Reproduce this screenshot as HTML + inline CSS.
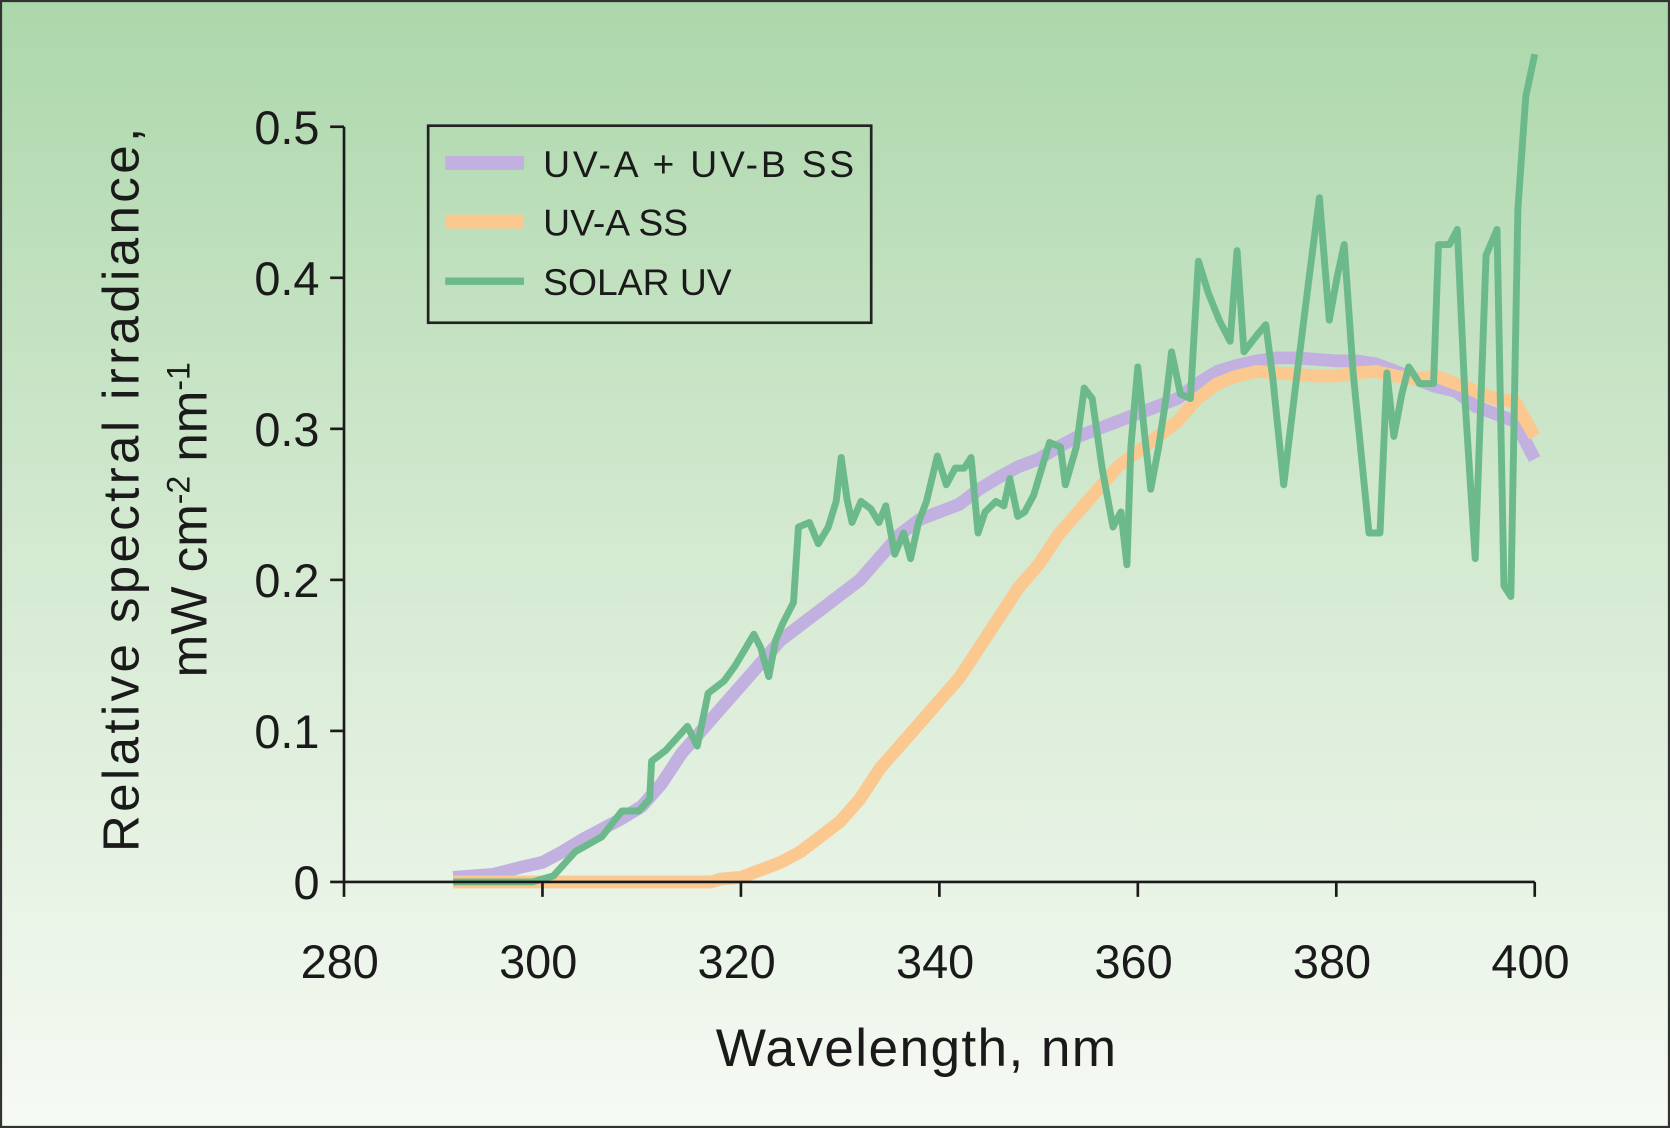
<!DOCTYPE html>
<html><head><meta charset="utf-8"><style>
html,body{margin:0;padding:0;}
body{width:1670px;height:1128px;overflow:hidden;}
svg{display:block;font-family:"Liberation Sans",sans-serif;}
</style></head><body>
<svg id="chart" width="1670" height="1128" viewBox="0 0 1568 1059" preserveAspectRatio="none" xmlns="http://www.w3.org/2000/svg">
<defs><linearGradient id="bg" x1="0" y1="0" x2="0" y2="1">
<stop offset="0" stop-color="#acd7ab"/><stop offset="0.5" stop-color="#d5ead2"/><stop offset="1" stop-color="#f6faf4"/></linearGradient></defs>
<rect x="1" y="1" width="1566" height="1057" fill="url(#bg)" stroke="#333" stroke-width="2"/>
<g id="series"></g>
<g id="axes"></g>
<g>
<rect x="402" y="118" width="416" height="185" fill="none" stroke="#222" stroke-width="2.5"/>
<line x1="418" y1="153" x2="492" y2="153" stroke="#c2b0e0" stroke-width="13"/>
<text x="510" y="166" font-size="35" fill="#1a1a1a" textLength="292">UV-A + UV-B SS</text>
<line x1="418" y1="208" x2="492" y2="208" stroke="#fbc890" stroke-width="13"/>
<text x="510" y="221" font-size="35" fill="#1a1a1a">UV-A SS</text>
<line x1="418" y1="264" x2="492" y2="264" stroke="#6cba8c" stroke-width="7"/>
<text x="510" y="277" font-size="35" fill="#1a1a1a">SOLAR UV</text>
</g>
<text transform="translate(130,460) rotate(-90)" text-anchor="middle" font-size="48" fill="#1a1a1a" textLength="680">Relative spectral irradiance,</text>
<text transform="translate(194,488) rotate(-90)" text-anchor="middle" font-size="48" fill="#1a1a1a">mW cm<tspan font-size="30" dy="-16">-2</tspan><tspan dy="16"> nm</tspan><tspan font-size="30" dy="-16">-1</tspan></text>
<text x="860" y="1001" text-anchor="middle" font-size="50" fill="#1a1a1a" textLength="376">Wavelength, nm</text>
</svg>
<script>
const xTicks = [280,300,320,340,360,380,400];
const yTicks = [0,0.1,0.2,0.3,0.4,0.5];
const yTickLabels = ["0","0.1","0.2","0.3","0.4","0.5"];
const uvabNm = [291,295,298,300,302,304,306,308,310,312,314,316,318,320,322,324,326,328,330,332,334,336,338,340,342,344,346,348,350,352,354,356,358,360,362,364,366,368,370,372,374,376,378,380,382,384,386,388,390,392,394,396,398,400];
const uvabVal = [0.003,0.005,0.01,0.013,0.02,0.028,0.035,0.042,0.05,0.065,0.085,0.1,0.115,0.13,0.145,0.16,0.17,0.18,0.19,0.2,0.215,0.23,0.24,0.245,0.25,0.26,0.268,0.275,0.28,0.288,0.295,0.3,0.305,0.31,0.315,0.32,0.33,0.338,0.342,0.345,0.347,0.347,0.346,0.345,0.345,0.343,0.338,0.333,0.328,0.325,0.315,0.31,0.305,0.28];
const uvaNm = [291,300,310,317,318,320,322,324,326,328,330,332,334,336,338,340,342,344,346,348,350,352,354,356,358,360,362,364,366,368,370,372,374,376,378,380,382,384,386,388,390,392,394,396,398,400];
const uvaVal = [0,0,0,0,0.002,0.003,0.008,0.013,0.02,0.03,0.04,0.055,0.075,0.09,0.105,0.12,0.135,0.155,0.175,0.195,0.21,0.23,0.245,0.26,0.275,0.285,0.295,0.305,0.32,0.33,0.335,0.338,0.337,0.336,0.335,0.335,0.337,0.338,0.335,0.333,0.335,0.33,0.325,0.32,0.318,0.295];
const solarNm = [291,299,301.1,303.3,306,308,309.7,310.8,311,312.4,314.6,315.6,316.7,318.3,319.4,320.5,321.3,322,322.8,323.5,324.2,325.3,325.8,326.9,327.8,328.8,329.6,330.1,330.7,331.2,332.1,333.1,333.9,334.6,335.5,336.4,337.1,337.9,338.7,339.8,340.7,341.6,342.5,343.2,343.9,344.6,345.7,346.5,347.1,347.9,348.6,349.5,351.1,352.2,352.7,353.8,354.6,355.4,356.4,357.5,358.3,358.9,359.3,360,360.7,361.3,362.1,362.9,363.4,364.3,365.3,366.1,367.1,368.2,369.3,370,370.7,372,372.9,373.6,374.7,375.8,377.2,378.3,379.3,380.1,380.8,381.7,383.3,384.4,385.1,385.8,386.6,387.3,388.4,389.8,390.3,391.4,392.2,393,394,395.1,396.2,396.9,397.6,398.3,399.1,400];
const solarVal = [0,0,0.004,0.02,0.03,0.047,0.047,0.055,0.08,0.087,0.103,0.09,0.125,0.133,0.143,0.155,0.164,0.155,0.136,0.16,0.171,0.185,0.235,0.238,0.224,0.235,0.252,0.281,0.253,0.238,0.252,0.247,0.238,0.249,0.217,0.231,0.214,0.238,0.252,0.282,0.263,0.274,0.274,0.281,0.231,0.245,0.252,0.249,0.267,0.242,0.245,0.256,0.291,0.288,0.263,0.288,0.327,0.32,0.274,0.235,0.245,0.21,0.288,0.341,0.295,0.26,0.288,0.323,0.351,0.323,0.32,0.411,0.39,0.372,0.358,0.418,0.351,0.362,0.369,0.334,0.263,0.323,0.397,0.453,0.372,0.401,0.422,0.337,0.231,0.231,0.337,0.295,0.323,0.341,0.33,0.33,0.422,0.422,0.432,0.316,0.214,0.415,0.432,0.196,0.189,0.446,0.52,0.548];

const NS="http://www.w3.org/2000/svg";
const X0=323,X1=1441,Y0=828,Y1=119;
function xs(v){return X0+(v-280)/(400-280)*(X1-X0);}
function ys(v){return Y0-(v/0.5)*(Y0-Y1);}
function mk(t,a,parent){const e=document.createElementNS(NS,t);for(const k in a)e.setAttribute(k,a[k]);parent.appendChild(e);return e;}
const series=document.getElementById('series'), axes=document.getElementById('axes');
function line(nm,val,color,w){
  const d=nm.map((n,i)=>(i?'L':'M')+xs(n).toFixed(1)+','+ys(val[i]).toFixed(1)).join('');
  return mk('path',{d:d,fill:'none',stroke:color,'stroke-width':w,'stroke-linejoin':'round','stroke-linecap':'butt'},series);
}
const p1=line(uvabNm,uvabVal,'#c2b0e0',12);


const p2=line(uvaNm,uvaVal,'#fbc890',12);


const p3=line(solarNm,solarVal,'#6cba8c',6.5);



const ya=mk('line',{x1:X0,y1:Y1,x2:X0,y2:Y0,stroke:'#1a1a1a','stroke-width':2.5},axes);


const xa=mk('line',{x1:X0,y1:Y0,x2:X1,y2:Y0,stroke:'#1a1a1a','stroke-width':2.5},axes);


yTicks.forEach((v,i)=>{
  const y=ys(v);
  mk('line',{x1:X0-13,y1:y,x2:X0,y2:y,stroke:'#1a1a1a','stroke-width':2.5},axes);
  const t=mk('text',{x:300,y:y+16,'text-anchor':'end','font-size':44,fill:'#1a1a1a'},axes);
  t.textContent=yTickLabels[i];
  
  
});
xTicks.forEach(v=>{
  const x=xs(v);
  mk('line',{x1:x,y1:Y0,x2:x,y2:Y0+14,stroke:'#1a1a1a','stroke-width':2.5},axes);
  const t=mk('text',{x:x-4,y:918,'text-anchor':'middle','font-size':44,fill:'#1a1a1a'},axes);
  t.textContent=String(v);
  
  
});
</script>
</body></html>
